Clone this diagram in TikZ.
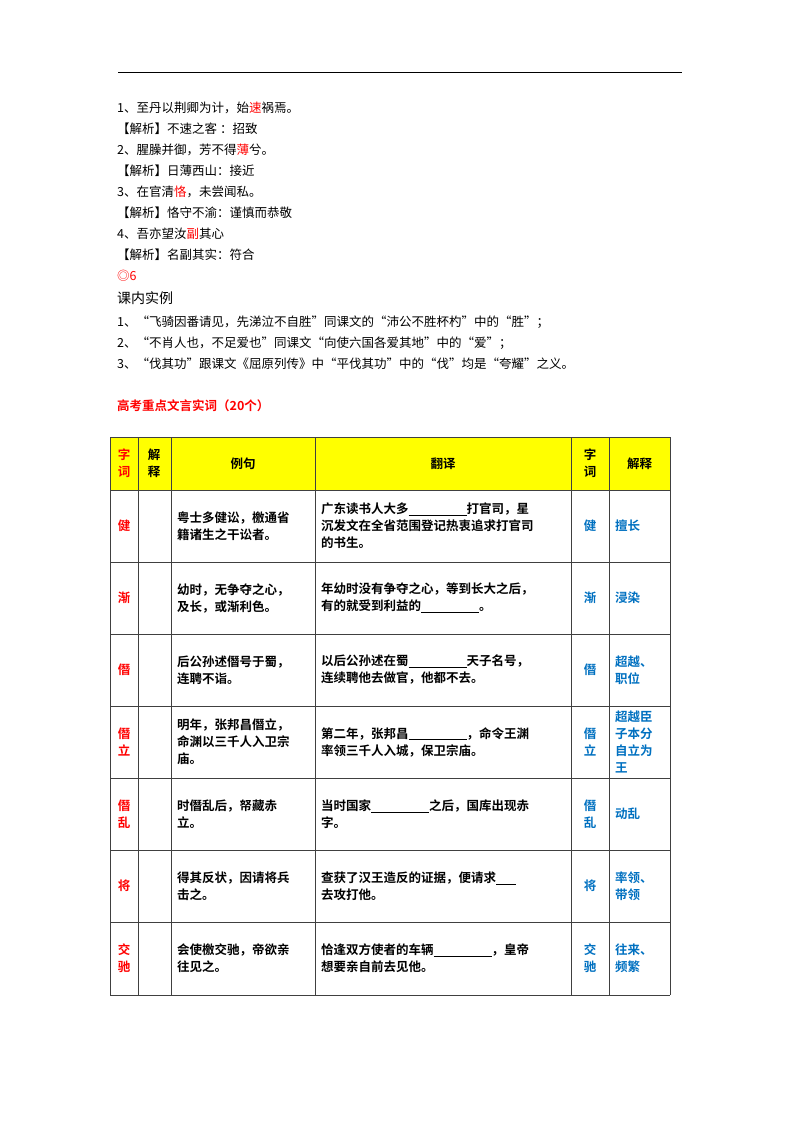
\documentclass[tikz,border=0pt]{standalone}
\usepackage{fontspec}
\setmainfont{Noto Sans CJK SC}
\newfontfamily\cjkb{Noto Sans CJK SC Bold}
\definecolor{myred}{HTML}{FF0000}
\definecolor{myblue}{HTML}{0070C0}
\definecolor{myyel}{HTML}{FFFF00}
\newcommand{\blk}[1]{\rule[-2pt]{#1pt}{0.7pt}}
\begin{document}
\begin{tikzpicture}[x=1pt,y=-1pt,
 body/.style={anchor=west,inner sep=0pt,font=\fontsize{12.5}{15}\selectfont},
 cell/.style={anchor=west,inner sep=0pt,align=left,font=\cjkb\fontsize{12.5}{17}\selectfont},
 word/.style={inner sep=0pt,align=center,font=\cjkb\fontsize{12.5}{17}\selectfont},
 grid/.style={draw=black!75,line width=0.9pt}]
\useasboundingbox (0,0) rectangle (800,1132);
\draw[line width=0.8pt] (118,72) -- (682,72);
\node[body] (l1) at (117,108) {1、至丹以荆卿为计，始\textcolor{myred}{速}祸焉。};
\node[body] (l2) at (117,129) {【解析】不速之客 ：招致};
\node[body] (l3) at (117,150) {2、腥臊并御，芳不得\textcolor{myred}{薄}兮。};
\node[body] (l4) at (117,171) {【解析】日薄西山：接近};
\node[body] (l5) at (117,192) {3、在官清\textcolor{myred}{恪}，未尝闻私。};
\node[body] (l6) at (117,213) {【解析】恪守不渝：谨慎而恭敬};
\node[body] (l7) at (117,234) {4、吾亦望汝\textcolor{myred}{副}其心};
\node[body] (l8) at (117,255) {【解析】名副其实：符合};
\node[body,text=myred] (l9) at (117,276) {◎6};
\node[body,font=\fontsize{14}{16}\selectfont] (l10) at (117,298) {课内实例};
\node[body] (l11) at (117,322) {1、“飞骑因番请见，先涕泣不自胜”同课文的“沛公不胜杯杓”中的“胜”；};
\node[body] (l12) at (117,343) {2、“不肖人也，不足爱也”同课文“向使六国各爱其地”中的“爱”；};
\node[body] (l13) at (117,364) {3、“伐其功”跟课文《屈原列传》中“平伐其功”中的“伐”均是“夸耀”之义。};
\node[body,font=\cjkb\fontsize{12.5}{15}\selectfont,text=myred] (ttl) at (117,406) {高考重点文言实词（20个）};
% table
\fill[myyel] (110,437) rectangle (670,490);
\foreach \y in {437,490,562,634,706,778,850,922,995} \draw[grid] (110,\y) -- (670,\y);
\foreach \x in {110,138,171,315,571,609,670} \draw[grid] (\x,437) -- (\x,995);
\node[word,text=myred] (h1) at (124,463.5) {字\\词};
\node[word] (h2) at (154,463.5) {解\\释};
\node[word] (h3) at (243,463.5) {例句};
\node[word] (h4) at (443,463.5) {翻译};
\node[word] (h5) at (590,463.5) {字\\词};
\node[word] (h6) at (639.5,463.5) {解释};
% rows
\foreach \yc/\w/\ex/\tr/\ww/\mm [count=\i] in {
 526/健/{粤士多健讼，檄通省\\籍诸生之干讼者。}/{广东读书人大多\blk{58}打官司，星\\沉发文在全省范围登记热衷追求打官司\\的书生。}/健/{擅长},
 598/渐/{幼时，无争夺之心，\\及长，或渐利色。}/{年幼时没有争夺之心，等到长大之后，\\有的就受到利益的\blk{58}。}/渐/{浸染},
 670/僭/{后公孙述僭号于蜀，\\连聘不诣。}/{以后公孙述在蜀\blk{58}天子名号，\\连续聘他去做官，他都不去。}/僭/{超越、\\职位},
 742/{僭\\立}/{明年，张邦昌僭立，\\命渊以三千人入卫宗\\庙。}/{第二年，张邦昌\blk{58}，命令王渊\\率领三千人入城，保卫宗庙。}/{僭\\立}/{超越臣\\子本分\\自立为\\王},
 814/{僭\\乱}/{时僭乱后，帑藏赤\\立。}/{当时国家\blk{58}之后，国库出现赤\\字。}/{僭\\乱}/{动乱},
 886/将/{得其反状，因请将兵\\击之。}/{查获了汉王造反的证据，便请求\blk{20}\\去攻打他。}/将/{率领、\\带领},
 958/{交\\驰}/{会使檄交驰，帝欲亲\\往见之。}/{恰逢双方使者的车辆\blk{58}，皇帝\\想要亲自前去见他。}/{交\\驰}/{往来、\\频繁}}
{
 \node[word,text=myred] (w\i) at (124,\yc) {\w};
 \node[cell] (e\i) at (177,\yc) {\ex};
 \node[cell] (t\i) at (321,\yc) {\tr};
 \node[word,text=myblue] (v\i) at (590,\yc) {\ww};
 \node[cell,text=myblue] (m\i) at (615,\yc) {\mm};
}
\end{tikzpicture}
\end{document}
